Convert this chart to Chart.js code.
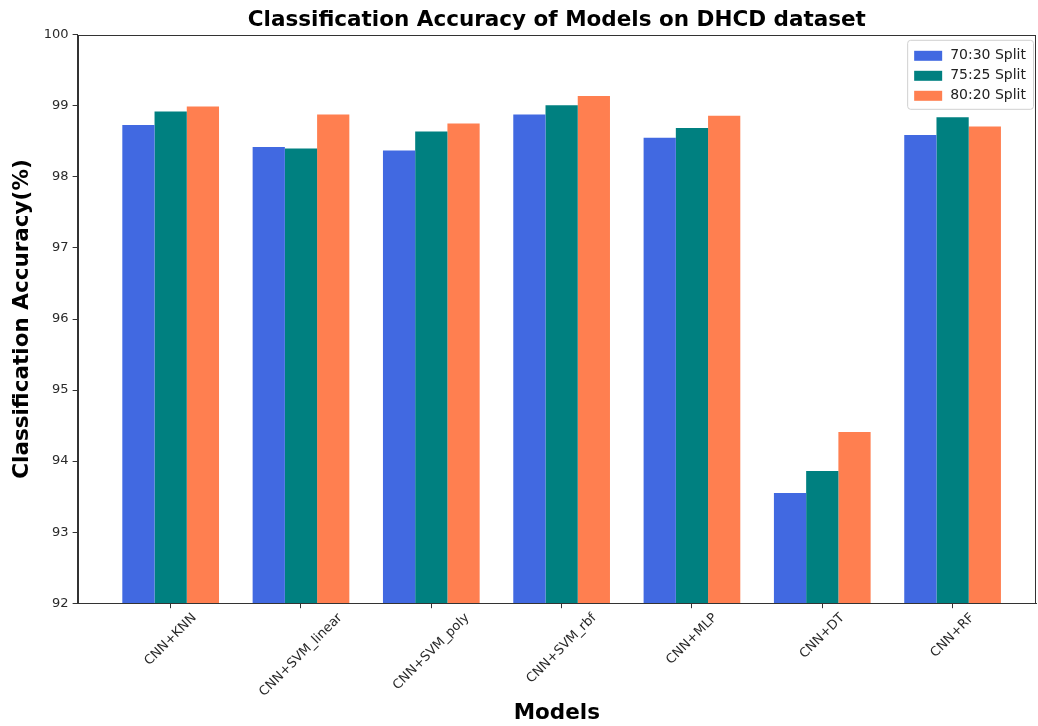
<!DOCTYPE html>
<html>
<head>
<meta charset="utf-8">
<script src="https://cdn.jsdelivr.net/npm/chart.js@4/dist/chart.umd.min.js"></script>
<style>
  html, body { margin: 0; padding: 0; background: #fff; }
  #wrap { width: 1038px; height: 726px; }
</style>
</head>
<body>
<div id="wrap"><canvas id="c" width="1038" height="726"></canvas></div>
<script>
// Models compared and accuracy (%) for each train:test split
const categories = ['CNN+KNN', 'CNN+SVM_linear', 'CNN+SVM_poly', 'CNN+SVM_rbf', 'CNN+MLP', 'CNN+DT', 'CNN+RF'];
const seriesNames = ['70:30 Split', '75:25 Split', '80:20 Split'];
const split7030 = [98.73, 98.42, 98.37, 98.88, 98.55, 93.55, 98.59];
const split7525 = [98.92, 98.40, 98.64, 99.01, 98.69, 93.86, 98.84];
const split8020 = [98.99, 98.88, 98.75, 99.14, 98.86, 94.41, 98.71];
const yTicks = [92, 93, 94, 95, 96, 97, 98, 99, 100];

const colors = ['#4169E1', '#008080', '#FF7F50'];
const FONT = "'DejaVu Sans', sans-serif";

const toPoints = arr => arr.map((v, i) => ({ x: i, y: v }));

// Spines on all four sides of the plot
const framePlugin = {
  id: 'frame',
  afterDatasetsDraw(chart) {
    const { ctx, chartArea: a } = chart;
    ctx.save();
    ctx.strokeStyle = '#333';
    ctx.lineWidth = 1;
    ctx.strokeRect(Math.round(a.left) + 0.5, Math.round(a.top) + 0.5,
                   Math.round(a.right - a.left) - 1, Math.round(a.bottom - a.top));
    ctx.restore();
  }
};

// Category names under the x ticks, rotated 45° and centred on each tick
const rotatedCategoryLabels = {
  id: 'rotatedCategoryLabels',
  afterDraw(chart) {
    const { ctx, chartArea: a } = chart;
    const xs = chart.scales.x;
    const size = 13;
    ctx.save();
    ctx.font = size + 'px ' + FONT;
    ctx.fillStyle = '#2a2a2a';
    ctx.textAlign = 'center';
    ctx.textBaseline = 'middle';
    categories.forEach((name, i) => {
      const w = ctx.measureText(name).width;
      const half = (w + size) / Math.SQRT2 / 2;
      const cx = xs.getPixelForValue(i);
      const cy = a.bottom + 8 + half;
      ctx.save();
      ctx.translate(cx, cy);
      ctx.rotate(-Math.PI / 4);
      ctx.fillText(name, 0, 0);
      ctx.restore();
    });
    ctx.restore();
  }
};

// Boxed legend in the upper-right corner of the plot
const boxLegend = {
  id: 'boxLegend',
  afterDraw(chart) {
    const { ctx, chartArea: a } = chart;
    const ds = chart.data.datasets;
    ctx.save();
    ctx.font = '14px ' + FONT;
    const rowH = 20, pad = 7, patchW = 28, patchH = 10, gap = 8;
    let textW = 0;
    ds.forEach(d => { textW = Math.max(textW, ctx.measureText(d.label).width); });
    const w = pad + patchW + gap + textW + pad;
    const h = pad + rowH * ds.length + 2;
    const x = a.right - w - 3;
    const y = a.top + 5;
    ctx.beginPath();
    ctx.roundRect(x + 0.5, y + 0.5, w, h, 3);
    ctx.fillStyle = 'rgba(255,255,255,0.85)';
    ctx.fill();
    ctx.strokeStyle = '#d0d0d0';
    ctx.stroke();
    ds.forEach((d, i) => {
      const cy = y + pad + rowH * i + rowH / 2 - 1;
      ctx.fillStyle = d.backgroundColor;
      ctx.fillRect(x + pad, cy - patchH / 2, patchW, patchH);
      ctx.fillStyle = '#222';
      ctx.textBaseline = 'middle';
      ctx.textAlign = 'left';
      ctx.fillText(d.label, x + pad + patchW + gap, cy);
    });
    ctx.restore();
  }
};

new Chart(document.getElementById('c'), {
  type: 'bar',
  data: {
    datasets: [
      { label: seriesNames[0], data: toPoints(split7030), backgroundColor: colors[0] },
      { label: seriesNames[1], data: toPoints(split7525), backgroundColor: colors[1] },
      { label: seriesNames[2], data: toPoints(split8020), backgroundColor: colors[2] }
    ]
  },
  options: {
    responsive: false,
    animation: false,
    events: [],
    categoryPercentage: 0.742,
    barPercentage: 1.0,
    layout: { padding: { left: 1, right: 2, top: 0, bottom: 0 } },
    plugins: {
      legend: { display: false },
      tooltip: { enabled: false },
      title: {
        display: true,
        fullSize: false,
        text: 'Classification Accuracy of Models on DHCD dataset',
        color: '#000',
        font: { family: FONT, size: 21.5, weight: 'bold' },
        padding: { top: 8, bottom: 1 }
      }
    },
    scales: {
      x: {
        type: 'linear',
        offset: false,
        min: -0.714,
        max: 6.64,
        grid: { display: true, drawOnChartArea: false, drawTicks: true, tickLength: 5, color: '#333', offset: false },
        border: { display: true, color: '#333' },
        ticks: {
          display: false,
          stepSize: 1,
          includeBounds: false
        },
        title: {
          display: true,
          text: 'Models',
          color: '#000',
          font: { family: FONT, size: 21.5, weight: 'bold' },
          padding: { top: 92, bottom: 0 }
        }
      },
      y: {
        min: yTicks[0],
        max: yTicks[yTicks.length - 1],
        grid: { display: true, drawOnChartArea: false, drawTicks: true, tickLength: 5, color: '#333' },
        border: { display: true, color: '#333' },
        afterBuildTicks: scale => { scale.ticks = yTicks.map(v => ({ value: v })); },
        ticks: {
          color: '#2a2a2a',
          padding: 4,
          font: { family: FONT, size: 13 }
        },
        title: {
          display: true,
          text: 'Classification Accuracy(%)',
          color: '#000',
          font: { family: FONT, size: 21.5, weight: 'bold' },
          padding: { top: 9, bottom: 4 }
        }
      }
    }
  },
  plugins: [framePlugin, rotatedCategoryLabels, boxLegend]
});
</script>
</body>
</html>
